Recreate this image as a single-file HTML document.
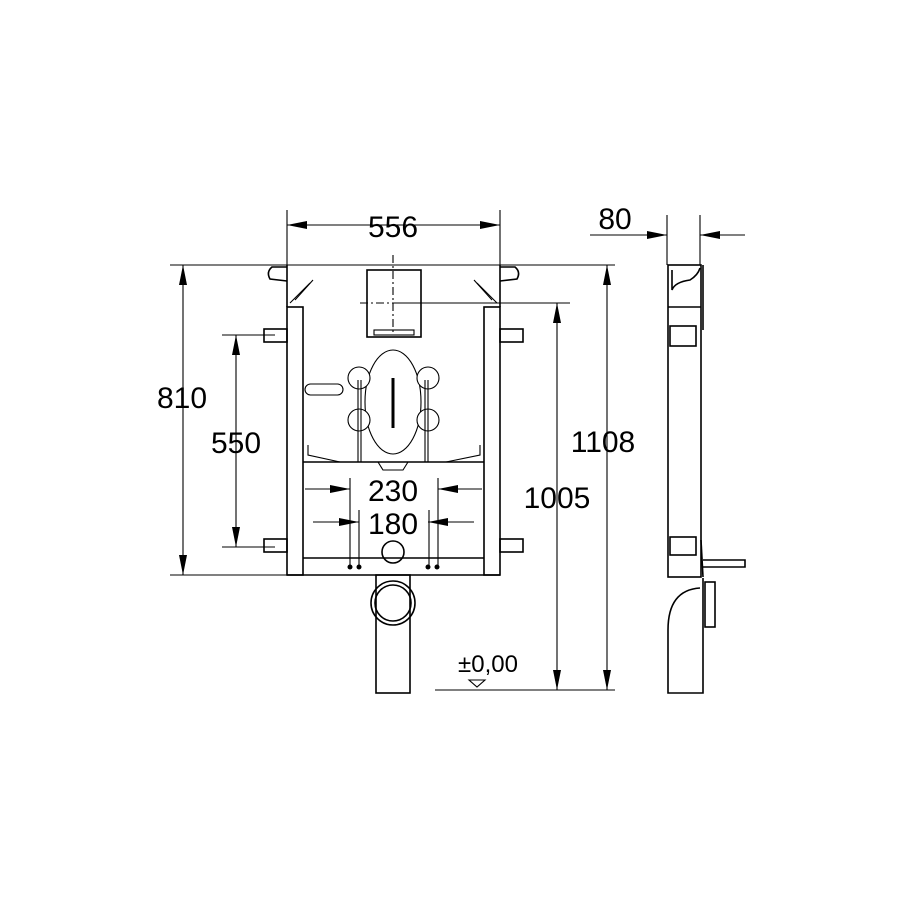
<!DOCTYPE html>
<html><head><style>body{margin:0;background:#fff}svg{display:block}text{font-family:"Liberation Sans",sans-serif;fill:#000}</style></head>
<body>
<svg width="900" height="900" viewBox="0 0 900 900" xmlns="http://www.w3.org/2000/svg">
<defs>
<marker id="a" markerWidth="20" markerHeight="8" refX="20" refY="4" orient="auto" markerUnits="userSpaceOnUse"><path d="M0,0 L20,4 L0,8 Z" fill="#000"/></marker>
</defs>
<g stroke="#000" fill="none" stroke-width="1.1">
<line x1="170" y1="265" x2="615" y2="265"/>
<line x1="170" y1="575" x2="287" y2="575"/>
<line x1="222" y1="335" x2="275" y2="335"/>
<line x1="222" y1="547" x2="275" y2="547"/>
<line x1="395" y1="303" x2="570" y2="303"/>
<line x1="435" y1="690" x2="615" y2="690"/>
<line x1="287" y1="210" x2="287" y2="265"/>
<line x1="500" y1="210" x2="500" y2="265"/>
<line x1="667" y1="215" x2="667" y2="265"/>
<line x1="700" y1="215" x2="700" y2="265"/>
<line x1="393" y1="225" x2="287" y2="225" marker-end="url(#a)"/>
<line x1="393" y1="225" x2="500" y2="225" marker-end="url(#a)"/>
<line x1="590" y1="235" x2="667" y2="235" marker-end="url(#a)"/>
<line x1="745" y1="235" x2="700" y2="235" marker-end="url(#a)"/>
<line x1="183" y1="420" x2="183" y2="265" marker-end="url(#a)"/>
<line x1="183" y1="420" x2="183" y2="575" marker-end="url(#a)"/>
<line x1="236" y1="440" x2="236" y2="335" marker-end="url(#a)"/>
<line x1="236" y1="440" x2="236" y2="547" marker-end="url(#a)"/>
<line x1="607" y1="480" x2="607" y2="265" marker-end="url(#a)"/>
<line x1="607" y1="480" x2="607" y2="690" marker-end="url(#a)"/>
<line x1="557" y1="500" x2="557" y2="303" marker-end="url(#a)"/>
<line x1="557" y1="500" x2="557" y2="690" marker-end="url(#a)"/>
<line x1="305" y1="489" x2="350" y2="489" marker-end="url(#a)"/>
<line x1="482" y1="489" x2="438" y2="489" marker-end="url(#a)"/>
<line x1="313" y1="522" x2="359" y2="522" marker-end="url(#a)"/>
<line x1="474" y1="522" x2="428" y2="522" marker-end="url(#a)"/>
<line x1="350" y1="478" x2="350" y2="568"/>
<line x1="438" y1="478" x2="438" y2="568"/>
<line x1="359" y1="510" x2="359" y2="568"/>
<line x1="429" y1="510" x2="429" y2="568"/>
<path d="M469,680 L485,680 L477,687 Z"/>
<g stroke-width="1.6">
<rect x="287" y="307" width="16" height="268"/>
<rect x="484" y="307" width="16" height="268"/>
<line x1="287" y1="265" x2="287" y2="307"/>
<line x1="500" y1="265" x2="500" y2="307"/>
<line x1="303" y1="462" x2="484" y2="462"/>
<line x1="303" y1="558" x2="484" y2="558"/>
<line x1="287" y1="575" x2="500" y2="575"/>
<path d="M287,267 L272,267 Q266,272 270,279 L287,281"/>
<path d="M500,267 L515,267 Q521,272 517,279 L500,281"/>
<rect x="264" y="329" width="23" height="13"/>
<rect x="500" y="329" width="23" height="13"/>
<rect x="264" y="539" width="23" height="13"/>
<rect x="500" y="539" width="23" height="13"/>
<rect x="367" y="270" width="54" height="67"/>
<rect x="376" y="575" width="34" height="118"/>
<circle cx="393" cy="603" r="22"/>
<circle cx="393" cy="603" r="18"/>
<circle cx="393" cy="552" r="11"/>
</g>
<line x1="295" y1="300" x2="313" y2="280"/><line x1="290" y1="303" x2="310" y2="283"/>
<line x1="492" y1="300" x2="474" y2="280"/><line x1="497" y1="303" x2="477" y2="283"/>
<line x1="393" y1="255" x2="393" y2="335" stroke-dasharray="8,3,2,3"/>
<line x1="360" y1="303" x2="430" y2="303" stroke-dasharray="8,3,2,3"/>
<rect x="374" y="330" width="40" height="5"/>
<ellipse cx="393" cy="402" rx="28" ry="52"/>
<line x1="393" y1="378" x2="393" y2="428" stroke-width="3"/>
<g fill="#fff">
<circle cx="359" cy="378" r="11"/><circle cx="428" cy="378" r="11"/>
<circle cx="359" cy="420" r="11"/><circle cx="428" cy="420" r="11"/>
</g>
<line x1="358" y1="380" x2="358" y2="462"/><line x1="361" y1="380" x2="361" y2="462"/>
<line x1="428" y1="380" x2="428" y2="462"/><line x1="425" y1="380" x2="425" y2="462"/>
<rect x="305" y="384" width="38" height="11" rx="5.5"/>
<path d="M308,445 L308,455 L340,462 M480,445 L480,455 L446,462"/>
<path d="M378,462 L383,470 L403,470 L408,462"/>
<g stroke-width="1.6">
<rect x="668" y="265" width="33" height="312"/>
<line x1="703" y1="265" x2="703" y2="330"/>
<line x1="668" y1="307" x2="701" y2="307"/>
<rect x="670" y="326" width="26" height="20"/>
<path d="M672,270 L672,290 Q675,282 690,280 Q698,275 700,268"/>
<rect x="670" y="537" width="26" height="18"/>
<path d="M703,560 L745,560 L745,567 L703,567"/>
<path d="M703,578 L703,693 L668,693 L668,630 Q668,590 700,588"/>
<rect x="705" y="582" width="10" height="45"/>
<line x1="701" y1="540" x2="703" y2="577"/>
</g>
</g>
<g fill="#000">
<circle cx="350" cy="567" r="2.5"/><circle cx="359" cy="567" r="2.5"/>
<circle cx="428" cy="567" r="2.5"/><circle cx="437" cy="567" r="2.5"/>
</g>
<g font-size="30" text-anchor="middle">
<text x="393" y="237">556</text>
<text x="615" y="229">80</text>
<text x="182" y="408">810</text>
<text x="236" y="453">550</text>
<text x="603" y="452">1108</text>
<text x="557" y="508">1005</text>
<text x="393" y="501">230</text>
<text x="393" y="534">180</text>
<text x="488" y="672" font-size="24">±0,00</text>
</g>
</svg>
</body></html>
